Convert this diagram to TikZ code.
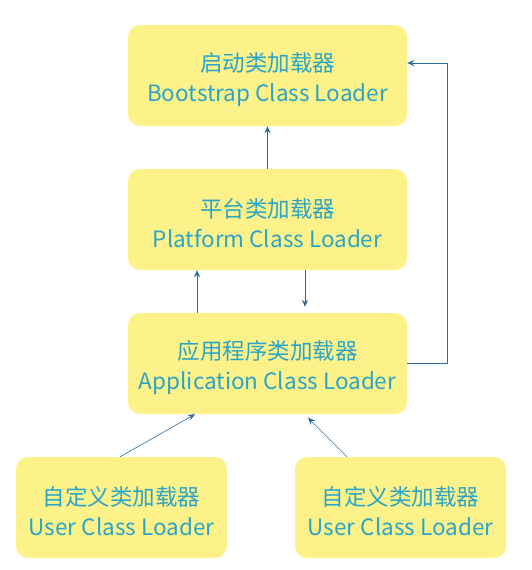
\documentclass[tikz,border=0pt]{standalone}
\usepackage{fontspec}
\usepackage{xcolor}
\usepackage{tikz}
\usetikzlibrary{arrows,arrows.meta,positioning,shapes,calc}
\newfontfamily\cjk{Noto Sans CJK SC}
\definecolor{boxfill}{HTML}{FDF28A}
\definecolor{txtblue}{HTML}{2AA5C7}
\definecolor{linkblue}{HTML}{2B6B9C}
\newcommand{\ldtext}[2]{\rule{0pt}{27pt}#1\\#2}

\begin{document}
\begin{tikzpicture}[x = 1pt, y = 1pt,
  loader/.style = {fill = boxfill, rounded corners = 12pt, align = center, text = txtblue,
    font = {\cjk\fontsize{22.5}{30}\selectfont}, minimum height = 101pt, inner sep = 0pt},
  link/.style = {-{Stealth[length = 7pt, width = 6pt]}, linkblue, thick}]
\useasboundingbox (0,0) rectangle (531,-570);
\node[loader, minimum width = 279pt] (boot) at (267.5,-75.5) {\ldtext{启动类加载器}{Bootstrap Class Loader}};
\node[loader, minimum width = 279pt] (plat) at (267.5,-219.5) {\ldtext{平台类加载器}{Platform Class Loader}};
\node[loader, minimum width = 279pt] (app) at (267.5,-363.5) {\ldtext{应用程序类加载器}{Application Class Loader}};
\node[loader, minimum width = 211pt] (userA) at (121.5,-507.5) {\ldtext{自定义类加载器}{User Class Loader}};
\node[loader, minimum width = 211pt] (userB) at (400.5,-507.5) {\ldtext{自定义类加载器}{User Class Loader}};
\draw[link] (plat.north) -- (boot.south);
\draw[link] ([xshift = -70.5pt]app.north) -- ([xshift = -70.5pt]plat.south);
\draw[link, shorten > = 6pt] ([xshift = 37.5pt]plat.south) -- ([xshift = 37.5pt]app.north);
\draw[link, rounded corners = 0pt] (app.east) -- ++(40,0) |- ([yshift = 12.5pt]boot.east);
\draw[link, semithick] ([xshift = -1.5pt]userA.north) -- ([xshift = -72.5pt]app.south);
\draw[link, semithick, shorten > = 5pt] ([xshift = -53.5pt]userB.north) -- ([xshift = 37pt]app.south);
\end{tikzpicture}
\end{document}
